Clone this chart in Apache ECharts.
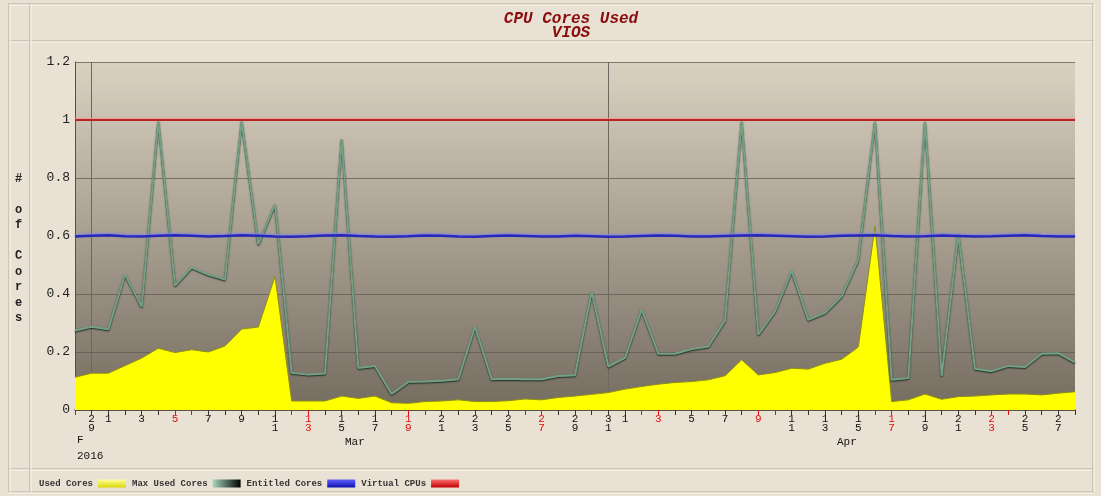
<!DOCTYPE html>
<html>
<head>
<meta charset="utf-8">
<script src="https://cdn.jsdelivr.net/npm/echarts@6/dist/echarts.min.js"></script>
<style>
  html, body { margin: 0; padding: 0; background: #e9e1d3; }
  #chart { width: 1101px; height: 496px; }
</style>
</head>
<body>
<div id="chart"></div>
<script>
// categories: every day from 28 Feb to 28 Apr 2016
const days = [
  '02-28', '02-29',
  '03-01', '03-02', '03-03', '03-04', '03-05', '03-06', '03-07', '03-08', '03-09', '03-10',
  '03-11', '03-12', '03-13', '03-14', '03-15', '03-16', '03-17', '03-18', '03-19', '03-20',
  '03-21', '03-22', '03-23', '03-24', '03-25', '03-26', '03-27', '03-28', '03-29', '03-30', '03-31',
  '04-01', '04-02', '04-03', '04-04', '04-05', '04-06', '04-07', '04-08', '04-09', '04-10',
  '04-11', '04-12', '04-13', '04-14', '04-15', '04-16', '04-17', '04-18', '04-19', '04-20',
  '04-21', '04-22', '04-23', '04-24', '04-25', '04-26', '04-27', '04-28'
];

// Used Cores (yellow area)
const usedCores = [
  0.113, 0.127,
  0.127, 0.153, 0.179, 0.213, 0.198, 0.208, 0.200, 0.221, 0.279, 0.286,
  0.461, 0.031, 0.031, 0.031, 0.048, 0.040, 0.048, 0.025, 0.023, 0.029,
  0.031, 0.035, 0.029, 0.029, 0.032, 0.038, 0.035, 0.043, 0.048, 0.054, 0.060,
  0.072, 0.081, 0.089, 0.095, 0.098, 0.104, 0.118, 0.173, 0.121, 0.129,
  0.144, 0.141, 0.161, 0.175, 0.217, 0.634, 0.029, 0.035, 0.055, 0.037,
  0.046, 0.048, 0.052, 0.055, 0.055, 0.052, 0.058, 0.063
];

// Max Used Cores (green line)
const maxUsedCores = [
  0.274, 0.287,
  0.278, 0.467, 0.356, 0.995, 0.429, 0.491, 0.467, 0.450, 0.995, 0.571,
  0.709, 0.128, 0.122, 0.126, 0.934, 0.145, 0.152, 0.055, 0.097, 0.098,
  0.101, 0.106, 0.288, 0.106, 0.108, 0.106, 0.106, 0.117, 0.120, 0.408, 0.150,
  0.180, 0.346, 0.194, 0.194, 0.210, 0.219, 0.309, 0.995, 0.260, 0.340,
  0.480, 0.311, 0.335, 0.392, 0.519, 0.995, 0.104, 0.110, 0.995, 0.118,
  0.606, 0.142, 0.134, 0.152, 0.148, 0.194, 0.196, 0.164
];

// Entitled Cores (blue line)
const entitledCores = [
  0.598, 0.601,
  0.603, 0.599, 0.598, 0.601, 0.603, 0.601, 0.598, 0.600, 0.603, 0.601,
  0.598, 0.597, 0.599, 0.602, 0.603, 0.600, 0.598, 0.597, 0.599, 0.602,
  0.601, 0.598, 0.597, 0.600, 0.602, 0.600, 0.598, 0.598, 0.601, 0.599, 0.597,
  0.598, 0.600, 0.602, 0.601, 0.598, 0.598, 0.600, 0.602, 0.603, 0.601,
  0.599, 0.597, 0.598, 0.601, 0.602, 0.603, 0.600, 0.598, 0.599, 0.602,
  0.600, 0.598, 0.599, 0.601, 0.603, 0.600, 0.598, 0.598
];

// Virtual CPUs (red line)
const virtualCpus = [
  1, 1,
  1, 1, 1, 1, 1, 1, 1, 1, 1, 1,
  1, 1, 1, 1, 1, 1, 1, 1, 1, 1,
  1, 1, 1, 1, 1, 1, 1, 1, 1, 1, 1,
  1, 1, 1, 1, 1, 1, 1, 1, 1, 1,
  1, 1, 1, 1, 1, 1, 1, 1, 1, 1,
  1, 1, 1, 1, 1, 1, 1, 1
];

const yTicks = { min: 0, max: 1.2, step: 0.2 };
const seriesNames = ['Used Cores', 'Max Used Cores', 'Entitled Cores', 'Virtual CPUs'];

const MONO = '"Liberation Mono", "DejaVu Sans Mono", monospace';

function isWeekend(v) {
  const d = new Date(2016, +v.slice(0, 2) - 1, +v.slice(3)).getDay();
  return d === 0 || d === 6;
}
function isLabelDay(v) {
  if (v === '02-29') return true;
  return v.slice(0, 2) !== '02' && (+v.slice(3)) % 2 === 1;
}
function isMonthEnd(v) {
  return v === '02-29' || v === '03-31';
}

// frame lines of the old-style panel (dark line + light line under it)
function frameLine(x1, y1, x2, y2) {
  const horiz = y1 === y2;
  return [
    { type: 'line', shape: { x1, y1, x2, y2 }, style: { stroke: '#b3ab9b', lineWidth: 1 }, silent: true },
    { type: 'line', shape: horiz ? { x1, y1: y1 + 1, x2, y2: y2 + 1 } : { x1: x1 + 1, y1, x2: x2 + 1, y2 },
      style: { stroke: '#fffbf2', lineWidth: 1 }, silent: true }
  ];
}

const grad = (a, b, horiz) => new echarts.graphic.LinearGradient(0, 0, horiz ? 1 : 0, horiz ? 0 : 1,
  [{ offset: 0, color: a }, { offset: 1, color: b }]);

const chart = echarts.init(document.getElementById('chart'));

chart.setOption({
  backgroundColor: '#e9e1d3',
  animation: false,
  title: {
    text: 'CPU Cores Used\nVIOS',
    left: 566,
    textAlign: 'center',
    top: 7,
    textStyle: {
      fontFamily: MONO,
      fontStyle: 'italic',
      fontWeight: 'bold',
      fontSize: 16,
      lineHeight: 14,
      color: '#8a0c0c'
    }
  },
  legend: {
    left: 34,
    top: 474,
    align: 'right',
    itemWidth: 28,
    itemHeight: 8,
    itemGap: 6,
    icon: 'rect',
    textStyle: { fontFamily: MONO, fontWeight: 'bold', fontSize: 9, color: '#333' },
    data: [
      { name: seriesNames[0], itemStyle: { color: grad('#ffffa0', '#d8d800', false) } },
      { name: seriesNames[1], itemStyle: { color: grad('#a8d8c0', '#000000', true) } },
      { name: seriesNames[2], itemStyle: { color: grad('#6060ff', '#1010b0', false) } },
      { name: seriesNames[3], itemStyle: { color: grad('#ff7070', '#c00000', false) } }
    ]
  },
  grid: {
    left: 75, right: 26, top: 62, bottom: 86,
    show: true,
    borderWidth: 0,
    backgroundColor: grad('#dad1c1', '#756c60', false)
  },
  xAxis: [
    {
      type: 'category',
      data: days,
      boundaryGap: false,
      axisLine: { show: true, lineStyle: { color: '#4a4830', width: 1.5 } },
      axisTick: {
        show: true, length: 5, inside: false,
        interval: (i, v) => !isWeekend(days[i]),
        lineStyle: { color: '#333' }
      },
      axisLabel: {
        interval: (i, v) => isLabelDay(v),
        margin: 5,
        fontFamily: MONO,
        fontSize: 11,
        lineHeight: 9,
        color: (v) => (isWeekend(v) ? '#e01010' : '#111'),
        formatter: (v) => String(+v.slice(3)).split('').join('\n')
      },
      splitLine: {
        show: true,
        interval: (i, v) => isMonthEnd(days[i]),
        lineStyle: { color: '#6d675f', width: 1 }
      }
    },
    {
      type: 'category',
      data: days,
      boundaryGap: false,
      position: 'bottom',
      offset: 0,
      axisLine: { show: false },
      axisLabel: { show: false },
      splitLine: { show: false },
      axisTick: {
        show: true, length: 5,
        interval: (i, v) => isWeekend(days[i]),
        lineStyle: { color: '#e01010' }
      }
    }
  ],
  yAxis: {
    type: 'value',
    min: yTicks.min,
    max: yTicks.max,
    interval: yTicks.step,
    axisLine: { show: true, lineStyle: { color: '#55524a' } },
    axisTick: { show: false },
    axisLabel: {
      margin: 5,
      fontFamily: MONO,
      fontSize: 13,
      color: '#222'
    },
    splitLine: { show: true, lineStyle: { color: 'rgba(95,90,80,0.75)', width: 1 } }
  },
  series: [
    {
      name: seriesNames[0],
      type: 'line',
      data: usedCores,
      symbol: 'none',
      lineStyle: { color: '#8d8d1a', width: 1 },
      itemStyle: { color: '#ffff00' },
      areaStyle: { color: '#ffff00', opacity: 1 },
      z: 2
    },
    {
      name: seriesNames[1],
      type: 'line',
      data: maxUsedCores,
      symbol: 'none',
      itemStyle: { color: '#6f9c82' },
      lineStyle: {
        color: '#74a087', width: 2,
        shadowColor: 'rgba(20,40,28,0.95)', shadowBlur: 1.5, shadowOffsetY: 1
      },
      z: 3
    },
    {
      name: seriesNames[2],
      type: 'line',
      data: entitledCores,
      symbol: 'none',
      itemStyle: { color: '#2a2ab8' },
      lineStyle: {
        color: '#2828b8', width: 2.5,
        shadowColor: 'rgba(130,130,235,0.95)', shadowBlur: 2, shadowOffsetY: -1
      },
      z: 4
    },
    {
      name: seriesNames[3],
      type: 'line',
      data: virtualCpus,
      symbol: 'none',
      itemStyle: { color: '#c02828' },
      lineStyle: {
        color: '#b82222', width: 2,
        shadowColor: 'rgba(245,150,150,0.95)', shadowBlur: 1.5, shadowOffsetY: -1
      },
      z: 5
    }
  ],
  graphic: [
    ...frameLine(8, 4, 1094, 4),
    ...frameLine(8, 41, 1094, 41),
    ...frameLine(8, 469, 1094, 469),
    ...frameLine(8, 492, 1094, 492),
    ...frameLine(9, 4, 9, 492),
    ...frameLine(30, 4, 30, 492),
    ...frameLine(1093, 4, 1093, 492),
    {
      type: 'text', left: 15, top: 171, silent: true,
      style: {
        text: '#\n\no\nf\n\nC\no\nr\ne\ns',
        fontFamily: MONO, fontWeight: 'bold', fontSize: 12, lineHeight: 15.5,
        fill: '#222', align: 'center'
      }
    },
    {
      type: 'text', left: 77, top: 435, silent: true,
      style: { text: 'F', fontFamily: MONO, fontSize: 11, fill: '#111' }
    },
    {
      type: 'text', left: 77, top: 451, silent: true,
      style: { text: '2016', fontFamily: MONO, fontSize: 11, fill: '#111' }
    },
    {
      type: 'text', left: 345, top: 437, silent: true,
      style: { text: 'Mar', fontFamily: MONO, fontSize: 11, fill: '#111' }
    },
    {
      type: 'text', left: 837, top: 437, silent: true,
      style: { text: 'Apr', fontFamily: MONO, fontSize: 11, fill: '#111' }
    }
  ]
});
</script>
</body>
</html>
